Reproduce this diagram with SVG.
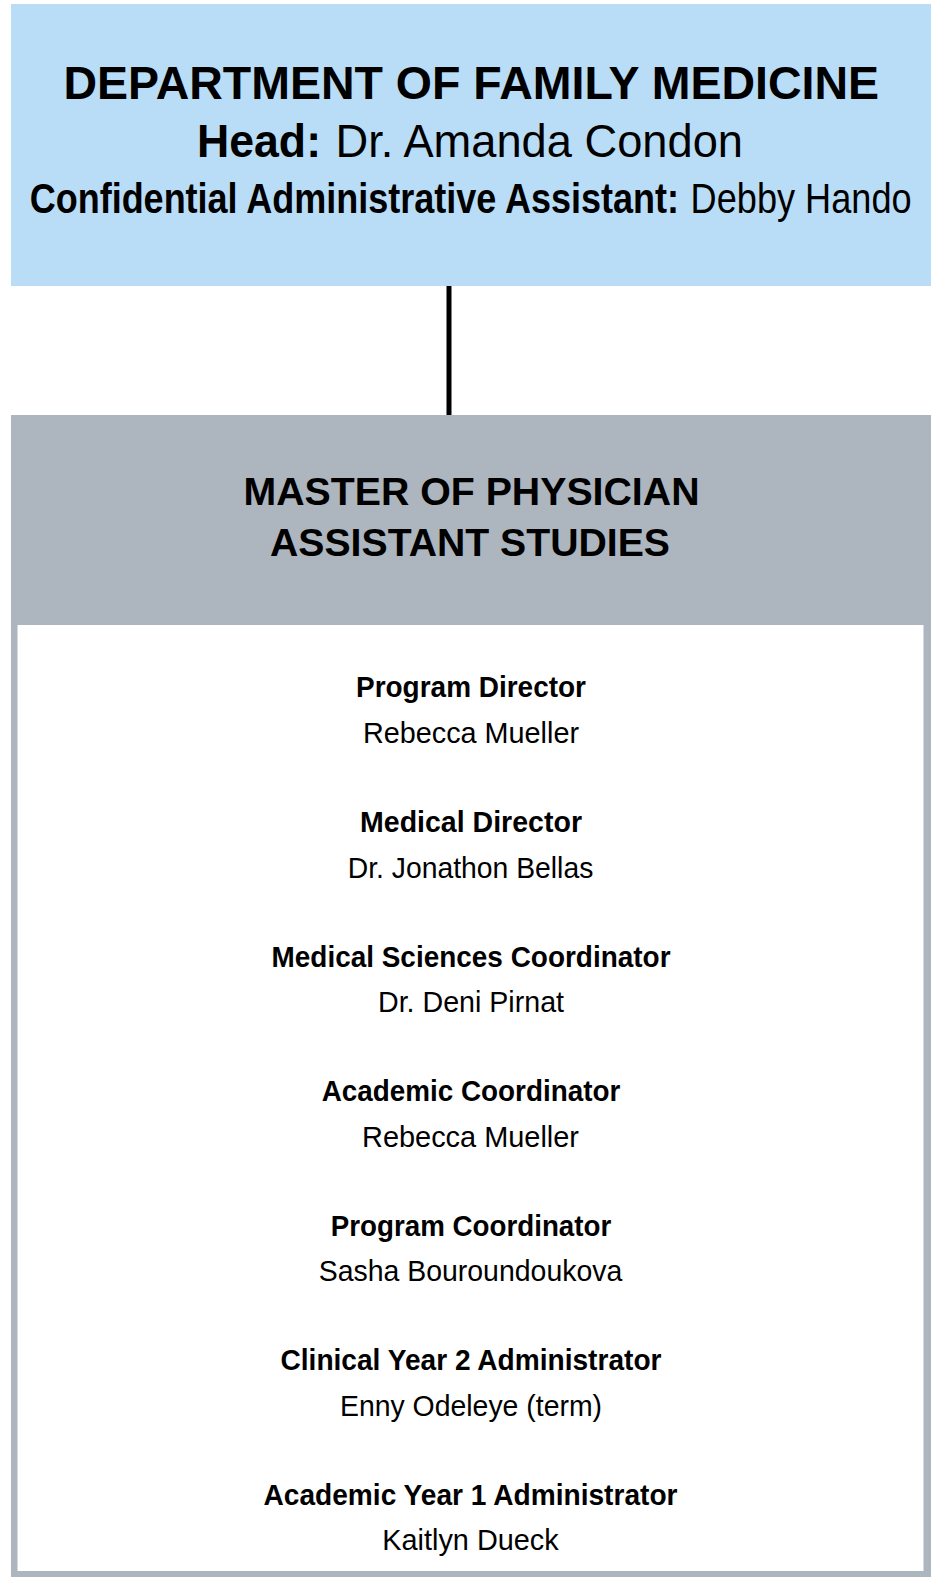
<svg xmlns="http://www.w3.org/2000/svg" width="931" height="1577" viewBox="0 0 931 1577">
<style>
text{font-family:"Liberation Sans",Arial,sans-serif;fill:#000}
.b{font-weight:bold}
.r{font-weight:normal}
.t{font-size:29px;text-anchor:middle}
</style>
<rect width="931" height="1577" fill="#fff"/>
<g id="connectors">
<line x1="449" y1="285" x2="449" y2="416" stroke="#000" stroke-width="5"/>
</g>
<g id="dept">
<rect x="11" y="4" width="920" height="282" fill="#b9ddf6"/>
<text class="b" x="63.5" y="99" font-size="47" textLength="815.5" lengthAdjust="spacingAndGlyphs">DEPARTMENT OF FAMILY MEDICINE</text>
<text class="b" x="197" y="157" font-size="46" textLength="124" lengthAdjust="spacingAndGlyphs">Head:</text>
<text class="r" x="335.5" y="157" font-size="46" textLength="407.5" lengthAdjust="spacingAndGlyphs">Dr. Amanda Condon</text>
<text class="b" transform="translate(29.7,213) scale(0.833,1)" x="0" y="0" font-size="43" textLength="779.4" lengthAdjust="spacingAndGlyphs">Confidential Administrative Assistant:</text>
<text class="r" transform="translate(690.6,213) scale(0.84,1)" x="0" y="0" font-size="43" textLength="263.1" lengthAdjust="spacingAndGlyphs">Debby Hando</text>
</g>
<g id="mpas">
<rect x="11" y="415" width="920" height="1162" fill="#adb5be"/>
<rect x="17.5" y="625" width="906" height="946" fill="#fff"/>
<text class="b" x="471.5" y="505" font-size="39" text-anchor="middle" textLength="456" lengthAdjust="spacingAndGlyphs">MASTER OF PHYSICIAN</text>
<text class="b" x="470" y="556" font-size="39" text-anchor="middle" textLength="400" lengthAdjust="spacingAndGlyphs">ASSISTANT STUDIES</text>
<g id="r1">
<text class="t b" x="471" y="697.3" textLength="230" lengthAdjust="spacingAndGlyphs">Program Director</text>
<text class="t r" x="471" y="743" textLength="216" lengthAdjust="spacingAndGlyphs">Rebecca Mueller</text>
</g>
<g id="r2">
<text class="t b" x="471" y="832" textLength="222" lengthAdjust="spacingAndGlyphs">Medical Director</text>
<text class="t r" x="470.5" y="877.5" textLength="245.6" lengthAdjust="spacingAndGlyphs">Dr. Jonathon Bellas</text>
</g>
<g id="r3">
<text class="t b" x="471" y="966.5" textLength="399" lengthAdjust="spacingAndGlyphs">Medical Sciences Coordinator</text>
<text class="t r" x="471" y="1012" textLength="186" lengthAdjust="spacingAndGlyphs">Dr. Deni Pirnat</text>
</g>
<g id="r4">
<text class="t b" x="471" y="1101" textLength="298.6" lengthAdjust="spacingAndGlyphs">Academic Coordinator</text>
<text class="t r" x="470.5" y="1146.5" textLength="217" lengthAdjust="spacingAndGlyphs">Rebecca Mueller</text>
</g>
<g id="r5">
<text class="t b" x="471" y="1235.7" textLength="280.5" lengthAdjust="spacingAndGlyphs">Program Coordinator</text>
<text class="t r" x="470.5" y="1281" textLength="303.6" lengthAdjust="spacingAndGlyphs">Sasha Bouroundoukova</text>
</g>
<g id="r6">
<text class="t b" x="471" y="1370.3" textLength="381" lengthAdjust="spacingAndGlyphs">Clinical Year 2 Administrator</text>
<text class="t r" x="471" y="1415.5" textLength="262" lengthAdjust="spacingAndGlyphs">Enny Odeleye (term)</text>
</g>
<g id="r7">
<text class="t b" x="470.5" y="1505" textLength="414" lengthAdjust="spacingAndGlyphs">Academic Year 1 Administrator</text>
<text class="t r" x="470.5" y="1550" textLength="176.5" lengthAdjust="spacingAndGlyphs">Kaitlyn Dueck</text>
</g>
</g>
</svg>
